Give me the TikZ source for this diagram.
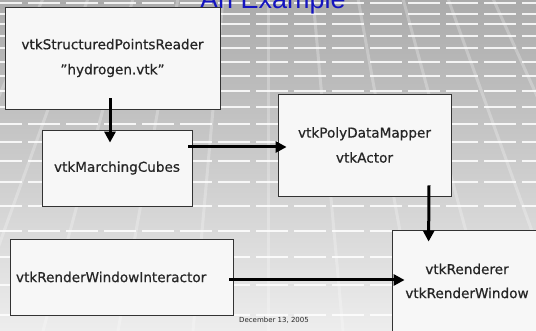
\documentclass[tikz,border=0pt]{standalone}
\usepackage{fontspec}
\setmainfont{DejaVu Sans}
\newfontfamily\titlefont{Liberation Sans}
\newfontfamily\boxfam[FakeBold=0.6]{DejaVu Sans}
\usetikzlibrary{arrows.meta,calc}
\definecolor{titleblue}{HTML}{1414C0}
\definecolor{boxfill}{HTML}{F7F7F7}
\begin{document}
\begin{tikzpicture}[x=1pt,y=-1pt,
  box/.style={draw=black!80, line width=0.8pt, fill=boxfill, inner sep=0pt, align=center, text=black!85},
  boxfont/.style={font=\boxfam\fontsize{13.6}{25}\selectfont},
  arr/.style={line width=3pt, -{Triangle[length=11pt,width=11pt]}},
  hline/.style={white, line width=1.6pt, opacity=0.85, dash pattern=on 32pt off 6pt},
  vline/.style={white, line width=3pt, opacity=0.25}]
\clip (0,0) rectangle (536,331);
\shade[top color=black!33, bottom color=black!7] (0,0) rectangle (536,331);
% perspective grid
\foreach \y in {3,14,24,36,48,62,76,91,107,124,142,161,182,206,231,257,285,315}
  \draw[hline] (-10,\y) -- (546,\y);
\foreach \k in {-6,...,6}
  \draw[vline] (268,-500) -- ({268+\k*75},331);
% title and footer
\node[font=\titlefont\fontsize{27}{30}\selectfont, text=titleblue, anchor=base] (title) at (273,9) {An Example};
\node[font=\fontsize{7}{8}\selectfont, text=black!85] (foot) at (274,320) {December 13, 2005};
% boxes
\node[box, boxfont, minimum width=215pt, minimum height=102pt] (b1) at (112.5,58)
  {vtkStructuredPointsReader\\”hydrogen.vtk”};
\node[box, boxfont, minimum width=150pt, minimum height=76pt] (b2) at (117,168)
  {vtkMarchingCubes};
\node[box, boxfont, minimum width=173pt, minimum height=102pt] (b3) at (364.5,145)
  {vtkPolyDataMapper\\vtkActor};
\node[box, boxfont, align=left, text width=211pt, inner xsep=6pt, minimum height=76pt] (b4) at (121.5,277)
  {vtkRenderWindowInteractor};
\node[box, font=\boxfam\fontsize{13.6}{24}\selectfont, minimum width=150pt, minimum height=102pt] (b5) at (467,281)
  {vtkRenderer\\vtkRenderWindow};
% connectors
\draw[arr] ([shift={(-2.5pt,11pt)}]b1.south) -- ([shift={(-7pt,-13pt)}]b2.north);
\draw[arr] ([shift={(-4pt,21pt)}]b2.east) -- ([shift={(9pt,-2pt)}]b3.west);
\draw[arr] ([shift={(64.5pt,11pt)}]b3.south) -- ([shift={(37pt,-12pt)}]b5.north west);
\draw[arr] ([shift={(-4pt,-3pt)}]b4.east) -- ([shift={(13pt,1pt)}]b5.west);
\end{tikzpicture}
\end{document}
